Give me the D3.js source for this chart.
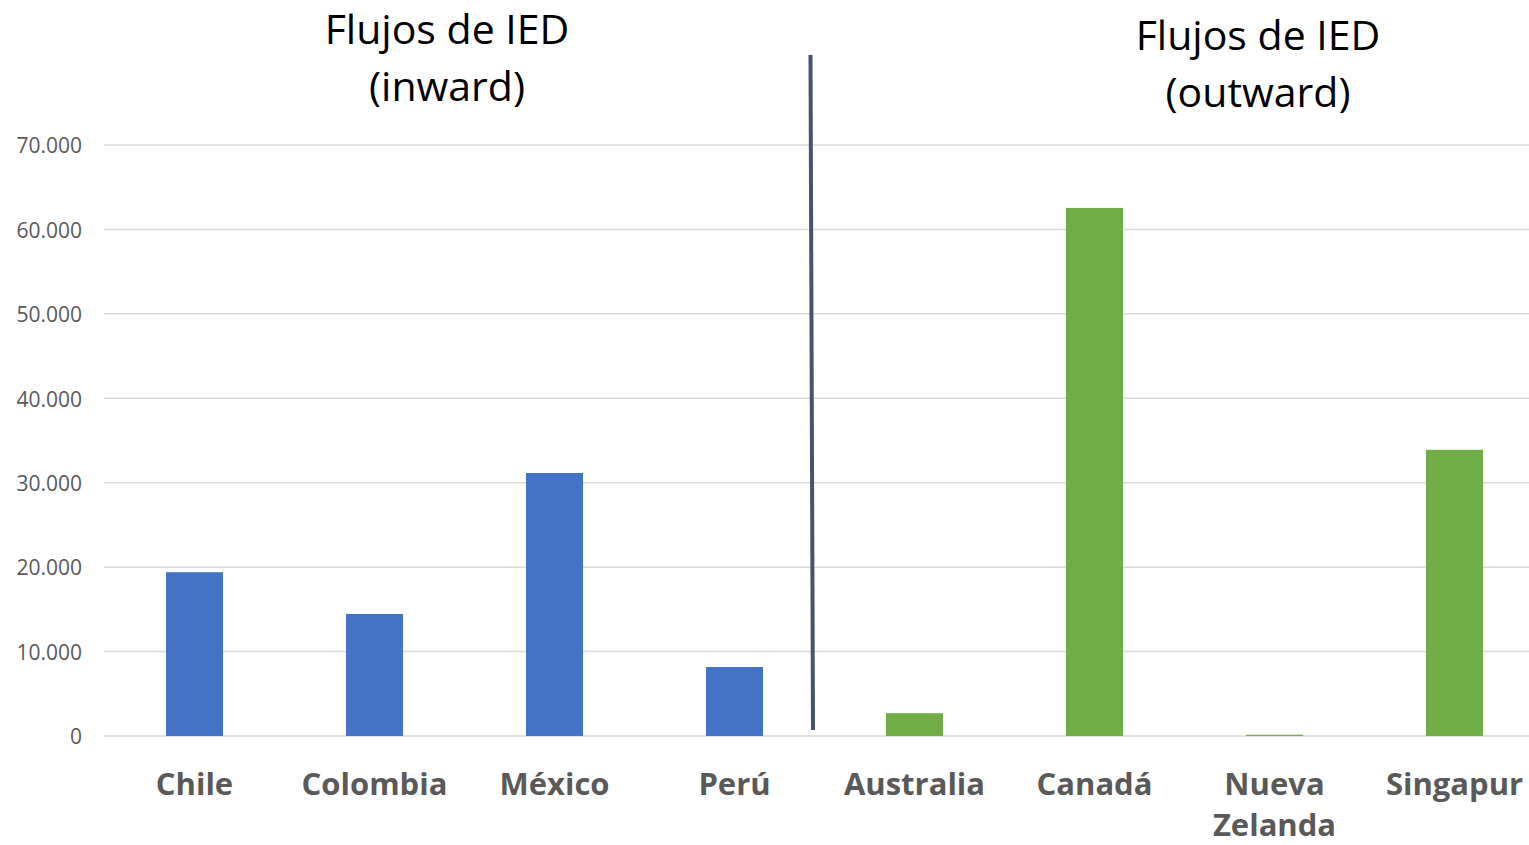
<!DOCTYPE html>
<html><head><meta charset="utf-8">
<script src="https://cdn.jsdelivr.net/npm/d3@7"></script>
<style>
html,body{margin:0;padding:0;background:#fff;overflow:hidden}
</style></head>
<body>
<svg id="chart" width="1529" height="845"></svg>
<script>
const categories = ["Chile","Colombia","México","Perú","Australia","Canadá","Nueva Zelanda","Singapur"];
const values = [19400, 14450, 31150, 8170, 2700, 62550, 150, 33900];
const groups = ["inward","inward","inward","inward","outward","outward","outward","outward"];
const yTicks = [0,10000,20000,30000,40000,50000,60000,70000];
const titles = [["Flujos de IED","(inward)"],["Flujos de IED","(outward)"]];
const colors = {inward:"#4472C4", outward:"#70AD47"};

const svg = d3.select("#chart");
const x = d3.scaleBand().domain(categories).range([104.5, 1544.5]).paddingInner(0.683).paddingOuter(0.3415);
const y = d3.scaleLinear().domain([0,70000]).range([736,145]);
const fmt = v => v===0 ? "0" : d3.format(",")(v).replace(/,/g,".");
const cx = d => x(d)+x.bandwidth()/2;

// gridlines
svg.append("g").selectAll("line").data(yTicks).join("line")
  .attr("x1",104).attr("x2",1529)
  .attr("y1",d=>y(d)).attr("y2",d=>y(d))
  .attr("stroke","#d9d9d9").attr("stroke-width",1.5);

// y axis labels
const yAxis = d3.axisLeft(y).tickValues(yTicks).tickFormat(fmt).tickSize(0).tickPadding(0);
const ga = svg.append("g").attr("transform","translate(82,1)").call(yAxis);
ga.select(".domain").remove();
ga.selectAll("text").attr("font-family","Open Sans, sans-serif").attr("font-size",21).attr("fill","#595959");

// bars
svg.append("g").selectAll("rect").data(categories).join("rect")
  .attr("x",d=>x(d)).attr("width",x.bandwidth())
  .attr("y",(d,i)=>y(values[i])).attr("height",(d,i)=>y(0)-y(values[i]))
  .attr("fill",(d,i)=>colors[groups[i]]);

// category labels
const lab = svg.append("g").selectAll("text").data(categories).join("text")
  .attr("x",cx).attr("y",795)
  .attr("text-anchor","middle")
  .attr("font-family","Open Sans, sans-serif").attr("font-weight","bold")
  .attr("font-size",31).attr("fill","#595959");
lab.each(function(d){
  const parts = d.split(" ");
  const t = d3.select(this);
  parts.forEach((p,k)=>t.append("tspan").attr("x",cx(d)).attr("dy",k===0?0:41).text(p));
});

// divider line between groups
const midX = (x(categories[3])+x.bandwidth()+x(categories[4]))/2;
svg.append("line")
  .attr("x1",midX-14).attr("y1",y(80650))
  .attr("x2",midX-11.5).attr("y2",y(700))
  .attr("stroke","#44546A").attr("stroke-width",4);

// titles
const titlePos = [[cx(categories[2])-107.5, 30],[cx(categories[6])-16.5, 36]];
titles.forEach((lines,i)=>{
  const t = svg.append("text").attr("text-anchor","middle")
    .attr("font-family","Open Sans, sans-serif").attr("font-size",41).attr("fill","#000");
  lines.forEach((l,k)=>t.append("tspan").attr("x",titlePos[i][0]).attr("y",titlePos[i][1]+14+k*57).text(l));
});
</script>
</body></html>
